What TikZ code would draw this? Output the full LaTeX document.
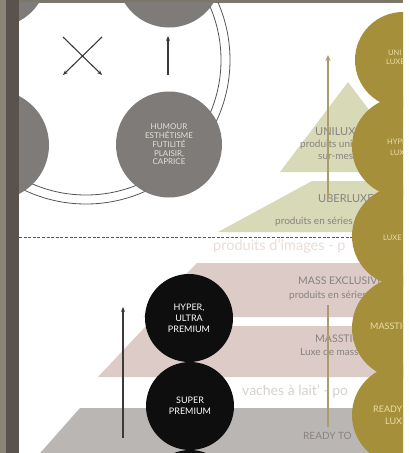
\documentclass[tikz,border=0pt]{standalone}
\usepackage{fontspec}
\setmainfont{Lato}
\usetikzlibrary{arrows.meta}
\definecolor{stripA}{HTML}{8A8577}
\definecolor{stripB}{HTML}{5A524D}
\definecolor{topband}{HTML}{7C7769}
\definecolor{cgrey}{HTML}{7F7B78}
\definecolor{ctextlight}{HTML}{E4E1DC}
\definecolor{cblack}{HTML}{0E0E0E}
\definecolor{cgold}{HTML}{A68F3B}
\definecolor{cgoldtxt}{HTML}{EADFA6}
\definecolor{cgreen}{HTML}{D8D9B7}
\definecolor{cpink}{HTML}{DCCBC6}
\definecolor{cgreytier}{HTML}{BAB6B3}
\definecolor{cpyrtxt}{HTML}{888380}
\definecolor{cfaint}{HTML}{E9DED8}
\definecolor{cfaintgrey}{HTML}{D6D2CE}
\definecolor{cdark}{HTML}{3A3A3A}
\definecolor{carc}{HTML}{555555}
\definecolor{ctan}{HTML}{AD9C66}
\begin{document}
\begin{tikzpicture}[x=1pt,y=-1pt,
  greycirc/.style={circle, fill=cgrey, inner sep=0pt, text=ctextlight, align=center, font=\fontsize{8}{8.8}\selectfont},
  blackcirc/.style={circle, fill=cblack, minimum size=88pt, inner sep=0pt, text=white, align=center, font=\fontsize{9}{11}\selectfont},
  goldcirc/.style={circle, fill=cgold, inner sep=0pt},
  goldtxt/.style={text=cgoldtxt, anchor=mid west, inner sep=0pt},
  pyrtxt/.style={text=cpyrtxt, anchor=mid west, inner sep=0pt},
  arrowdark/.style={draw=cdark, line width=1.1pt, -{Stealth[length=5pt,width=4pt]}},
  tanline/.style={draw=ctan, line width=1.8pt},
  arcline/.style={draw=carc, line width=0.8pt},
]
\useasboundingbox (0,0) rectangle (410,453);
\fill[white] (0,0) rectangle (410,453);
\fill[stripA] (0,0) rectangle (6,453);
\fill[stripB] (6,0) rectangle (19,453);
\fill[topband] (19,0) rectangle (403,2.5);
\begin{scope}
\clip (19,2.5) rectangle (403,453);
% double arcs
\draw[arcline] (86,60) circle[radius=135];
\draw[arcline] (86,60) circle[radius=144];
% grey circles
\node[greycirc, minimum size=104pt] (gtl) at (-5,-25) {};
\node[greycirc, minimum size=105pt] (gtm) at (169,-25) {};
\node[greycirc, minimum size=110pt] (gml) at (-6,145) {};
\node[greycirc, minimum size=106pt] (ghum) at (169,144.5) {HUMOUR\\ESTHÉTISME\\FUTILITÉ\\PLAISIR,\\CAPRICE};
% X arrows and vertical arrow
\coordinate (xa1) at (63,37); \coordinate (xa2) at (102,75);
\coordinate (xb1) at (102,37); \coordinate (xb2) at (63,75);
\draw[arrowdark] (xa1) -- (xa2);
\draw[arrowdark] (xb1) -- (xb2);
\coordinate (va1) at (168,75); \coordinate (va2) at (168,36);
\draw[arrowdark] (va1) -- (va2);
% upper pyramid (green)
\fill[cgreen] (348,82) -- (416,172) -- (280,172) -- cycle;
\fill[cgreen] (312,181) -- (420,181) -- (420,232) -- (218,232) -- cycle;
% lower pyramid
\fill[cpink] (197,263) -- (420,263) -- (420,317) -- (143,317) -- cycle;
\fill[cpink] (146,326) -- (420,326) -- (420,377) -- (98,377) -- cycle;
\fill[cgreytier] (80,408) -- (420,408) -- (420,460) -- (34,460) -- cycle;
% pyramid texts
\node[pyrtxt, font=\fontsize{11}{13}\selectfont] (t1) at (315,133) {UNILUXE};
\node[pyrtxt, font=\fontsize{10}{11}\selectfont] (t2) at (300,145) {produits uniques};
\node[pyrtxt, font=\fontsize{10}{11}\selectfont] (t3) at (318,157) {sur-mesure};
\node[pyrtxt, font=\fontsize{11}{13}\selectfont] (t4) at (318,200) {UBERLUXE};
\node[pyrtxt, font=\fontsize{10}{11}\selectfont] (t5) at (275,222) {produits en séries limitées};
\node[text=cfaint, anchor=mid west, inner sep=0pt, font=\fontsize{14.5}{16}\selectfont] (t6) at (213,248) {produits d'images - p};
\node[pyrtxt, font=\fontsize{10.5}{12}\selectfont] (t7) at (298,282) {MASS EXCLUSIVITÉ};
\node[pyrtxt, font=\fontsize{10}{11}\selectfont] (t8) at (289,296) {produits en séries};
\node[pyrtxt, font=\fontsize{10.5}{12}\selectfont] (t9) at (315,340) {MASSTIGE};
\node[pyrtxt, font=\fontsize{10}{11}\selectfont] (t10) at (300,353) {Luxe de masse};
\node[text=cfaintgrey, anchor=mid west, inner sep=0pt, font=\fontsize{14}{16}\selectfont] (t11) at (242,393) {vaches à lait' - po};
\node[pyrtxt, font=\fontsize{10}{12}\selectfont] (t12) at (303,437) {READY TO};
% tan arrows
\coordinate (ta1) at (328,198); \coordinate (ta2) at (328,55);
\draw[tanline, -{Stealth[length=6pt,width=5pt]}] (ta1) -- (ta2);
\coordinate (tb1) at (328,305); \coordinate (tb2) at (328,427);
\draw[tanline] (tb1) -- (tb2);
% dashed line
\coordinate (d1) at (19,237); \coordinate (d2) at (403,237);
\draw[draw=carc, line width=1pt, dash pattern=on 3pt off 1.6pt] (d1) -- (d2);
% black circles
\node[blackcirc] (b1) at (189,318) {HYPER,\\ULTRA\\PREMIUM};
\node[blackcirc] (b2) at (190,406) {SUPER\\PREMIUM};
\node[blackcirc] (b3) at (190,494) {};
% left arrow
\coordinate (la1) at (123,438); \coordinate (la2) at (123,307);
\draw[arrowdark] (la1) -- (la2);
% gold circles
\node[goldcirc, minimum size=96pt] (g1) at (403,60) {};
\node[goldcirc, minimum size=100pt] (g2) at (402,147) {};
\node[goldcirc, minimum size=100pt] (g3) at (402,236) {};
\node[goldcirc, minimum size=102pt] (g4) at (403,328) {};
\node[goldcirc, minimum size=100pt] (g5) at (402,415) {};
\node[goldtxt, font=\fontsize{7.5}{9}\selectfont] (g1a) at (388,53) {UNI};
\node[goldtxt, font=\fontsize{7.5}{9}\selectfont] (g1b) at (386,62) {LUXE};
\node[goldtxt, font=\fontsize{7.5}{9}\selectfont] (g2a) at (387,142) {HYPER};
\node[goldtxt, font=\fontsize{7.5}{9}\selectfont] (g2b) at (390,153) {LUXE};
\node[goldtxt, font=\fontsize{7.5}{9}\selectfont] (g3a) at (383,238) {LUXE};
\node[goldtxt, font=\fontsize{9}{11}\selectfont] (g4a) at (370,327) {MASSTIGE};
\node[goldtxt, font=\fontsize{9}{11}\selectfont] (g5a) at (373,410) {READY};
\node[goldtxt, font=\fontsize{9}{11}\selectfont] (g5b) at (385,422) {LUXE};
\end{scope}
\end{tikzpicture}
\end{document}
